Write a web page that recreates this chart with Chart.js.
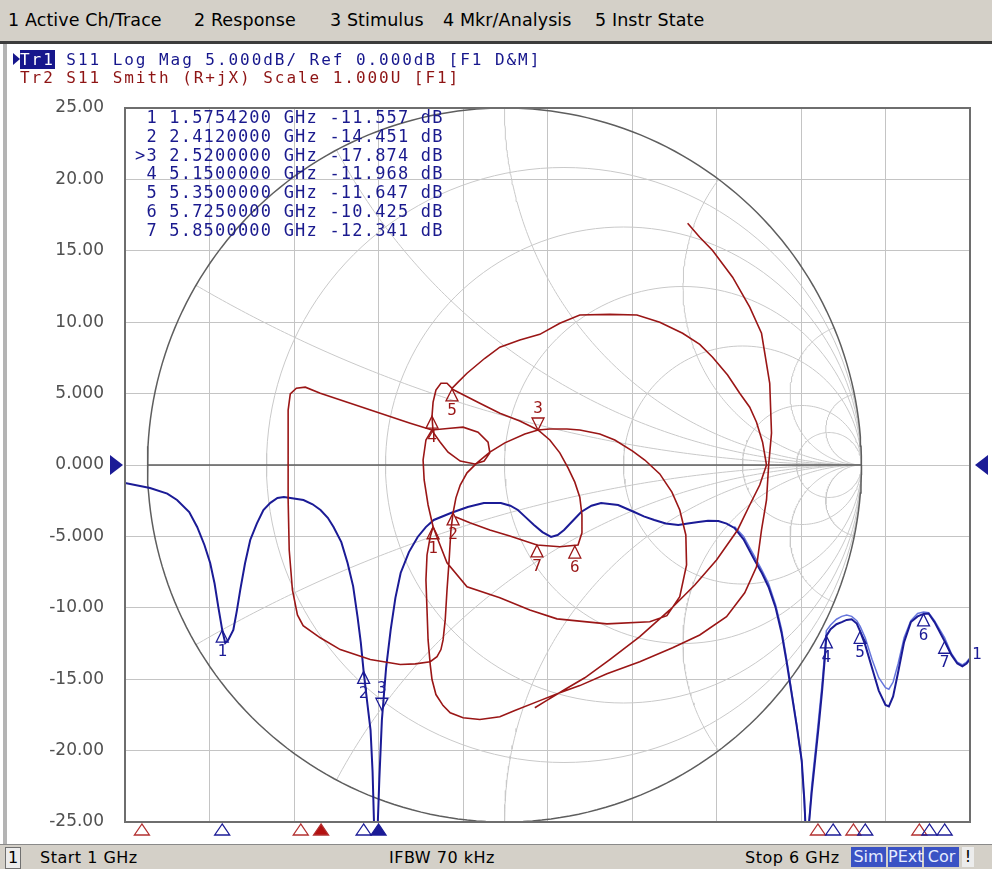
<!DOCTYPE html>
<html>
<head>
<meta charset="utf-8">
<title>S11 Log Mag / Smith</title>
<script src="https://cdn.jsdelivr.net/npm/chart.js@4.4.1/dist/chart.umd.min.js"></script>
<style>
  body { margin: 0; width: 992px; height: 869px; overflow: hidden; background: #fff; position: relative; }
  canvas { position: absolute; left: 0; top: 0; }
  #menu { position: absolute; left: 0; top: 0; width: 992px; height: 41px; background: #d4d0c8;
          font-family: "DejaVu Sans", sans-serif; font-size: 17.5px; letter-spacing: 0.1px; color: #000; }
  #menu span { position: absolute; top: 10px; white-space: pre; }
  #menuLine { position: absolute; left: 0; top: 41px; width: 992px; height: 3px; background: #3c3c3c; }
  #leftBar { position: absolute; left: 3px; top: 44px; width: 4px; height: 801px; background: #b4b4b4; }
  .hdr { position: absolute; left: 20px; font-family: "DejaVu Sans Mono", monospace; font-size: 16px;
         letter-spacing: 1.95px; white-space: pre; line-height: 18px; }
  #tr1 { top: 51px; color: #16168c; }
  #tr1 b { background: #16168c; color: #fff; font-weight: normal; }
  #tr2 { top: 69px; color: #8e1414; }
  #arrowHdr { position: absolute; left: 13px; top: 53px; width: 0; height: 0;
              border-top: 6px solid transparent; border-bottom: 6px solid transparent; border-left: 7px solid #16168c; }
  #mkTable { position: absolute; left: 135px; top: 108px; margin: 0; font-family: "DejaVu Sans Mono", monospace;
             font-size: 17px; letter-spacing: 1.2px; line-height: 18.8px; color: #1a1a8e; white-space: pre; }
  #status { position: absolute; left: 0; top: 844px; width: 992px; height: 25px; background: #d4d0c8;
            border-top: 1px solid #8a8a8a; font-family: "DejaVu Sans", sans-serif;
            font-size: 16px; letter-spacing: 0.5px; color: #000; }
  #status span { position: absolute; top: 3px; white-space: pre; }
  #status .box { top: 2px; height: 20px; line-height: 20px; text-align: center; letter-spacing: 0; }
  #chNo { left: 5px; width: 14px; background: #ececec; border: 1px solid #707070; }
  .blu { background: #3a52c4; color: #e6ecff; }
</style>
</head>
<body>
<canvas id="vna" width="992" height="869"></canvas>

<div id="menu">
  <span style="left:8px">1 Active Ch/Trace</span>
  <span style="left:194px">2 Response</span>
  <span style="left:330px">3 Stimulus</span>
  <span style="left:443px">4 Mkr/Analysis</span>
  <span style="left:595px">5 Instr State</span>
</div>
<div id="menuLine"></div>
<div id="leftBar"></div>

<div id="arrowHdr"></div>
<div class="hdr" id="tr1"><b>Tr1</b> S11 Log Mag 5.000dB/ Ref 0.000dB [F1 D&amp;M]</div>
<div class="hdr" id="tr2">Tr2 S11 Smith (R+jX) Scale 1.000U [F1]</div>
<pre id="mkTable"></pre>

<div id="status">
  <span class="box" id="chNo">1</span>
  <span style="left:40px">Start 1 GHz</span>
  <span style="left:389px">IFBW 70 kHz</span>
  <span style="left:745px">Stop 6 GHz</span>
  <span class="box blu" style="left:851px;width:35px">Sim</span>
  <span class="box blu" style="left:888px;width:34px">PExt</span>
  <span class="box blu" style="left:924px;width:35px">Cor</span>
  <span class="box" style="left:962px;width:12px;background:#ececec">!</span>
</div>

<script>
"use strict";

// Tr1: S11 log magnitude (GHz, dB)
const freqGHz = [1.000, 1.148, 1.25, 1.308, 1.38, 1.427, 1.47, 1.504, 1.53, 1.552, 1.5754, 1.593, 1.611,
  1.641, 1.662, 1.682, 1.71, 1.741, 1.78, 1.819, 1.86, 1.902, 1.94, 1.979, 2.056, 2.11, 2.157, 2.20, 2.234,
  2.28, 2.317, 2.35, 2.376, 2.395, 2.412, 2.435, 2.453, 2.465, 2.478, 2.49, 2.505, 2.52, 2.545, 2.572, 2.60,
  2.631, 2.68, 2.732, 2.78, 2.827, 2.928, 3.028, 3.123, 3.224, 3.28, 3.325, 3.37, 3.42, 3.47, 3.521, 3.56,
  3.598, 3.65, 3.699, 3.76, 3.817, 3.918, 4.013, 4.07, 4.132, 4.20, 4.274, 4.33, 4.393, 4.45, 4.511, 4.56,
  4.606, 4.66, 4.725, 4.77, 4.808, 4.85, 4.885, 4.915, 4.944, 4.975, 5.004, 5.02, 5.033, 5.048, 5.063, 5.085,
  5.104, 5.125, 5.14, 5.15, 5.175, 5.21, 5.241, 5.27, 5.30, 5.33, 5.35, 5.38, 5.42, 5.46, 5.50, 5.52, 5.545,
  5.575, 5.61, 5.65, 5.69, 5.725, 5.755, 5.79, 5.85, 5.89, 5.925, 5.955, 5.98, 6.0];
const s11Db = [-1.26, -1.61, -2.0, -2.45, -3.3, -4.34, -5.6, -6.86, -8.3, -9.94, -11.56, -12.46, -12.25,
  -11.55, -10.2, -8.75, -6.9, -5.25, -4.1, -3.15, -2.65, -2.31, -2.25, -2.31, -2.45, -2.75, -3.15, -3.7, -4.34,
  -5.4, -6.86, -8.5, -10.64, -12.4, -14.45, -16.8, -18.56, -21.5, -27, -27, -22.0, -17.87, -14.2, -11.55, -9.3,
  -7.56, -6.1, -5.04, -4.35, -3.85, -3.36, -2.94, -2.66, -2.66, -2.85, -3.15, -3.65, -4.2, -4.7, -5.04, -4.9,
  -4.55, -3.9, -3.29, -2.85, -2.66, -2.8, -3.29, -3.6, -3.85, -4.1, -4.2, -4.1, -3.99, -3.9, -3.92, -4.1,
  -4.41, -5.2, -6.65, -7.6, -8.54, -10.0, -11.76, -13.8, -15.97, -18.3, -20.66, -23.5, -27, -25, -22.97, -20.5,
  -18.35, -15.8, -13.66, -11.97, -11.5, -11.15, -11.0, -10.85, -10.8, -11.1, -11.65, -12.6, -14.2, -15.8, -16.8,
  -16.9, -16.2, -14.5, -12.4, -11.0, -10.6, -10.43, -10.4, -11.0, -12.34, -13.3, -13.9, -14.1, -13.9, -13.6];

// lighter memory copy of Tr1, visible at the high band
const memFreqGHz = [4.606, 4.66, 4.725, 4.77, 4.808, 4.85, 4.885, 4.915, 4.944, 4.975, 5.004, 5.02, 5.033,
  5.048, 5.063, 5.085, 5.104, 5.125, 5.14, 5.15, 5.175, 5.21, 5.241, 5.27, 5.30, 5.33, 5.35, 5.38, 5.42, 5.46,
  5.50, 5.52, 5.545, 5.575, 5.61, 5.65, 5.69, 5.725, 5.755, 5.79, 5.85, 5.89, 5.925, 5.955, 5.98, 6.0];
const memDb = [-4.3, -5.0, -6.4, -7.4, -8.3, -9.8, -11.5, -13.6, -15.8, -18.2, -20.8, -23.8, -27, -25, -22.5,
  -20.0, -17.8, -15.3, -13.2, -11.6, -11.2, -10.8, -10.6, -10.5, -10.6, -10.9, -11.3, -12.1, -13.6, -14.9, -15.6,
  -15.7, -15.2, -13.9, -12.1, -10.9, -10.4, -10.3, -10.35, -10.9, -12.1, -13.2, -13.8, -14.0, -13.8, -13.5];

// Tr2: S11 on the Smith chart (reflection coefficient, real / imaginary); null = break
const smithRe = [0.513, 0.547, 0.583, 0.639, 0.687, 0.720, 0.743, 0.748, 0.740, 0.734, 0.720, 0.706, 0.673,
  0.622, 0.547, 0.471, 0.379, 0.287, 0.211, 0.155, 0.099, 0.029, -0.013, -0.069, -0.116, -0.152, -0.172, -0.192,
  -0.203, -0.208, -0.214, -0.217, -0.220, -0.217, -0.208, -0.200,
  -0.186, -0.161, -0.105, -0.013, 0.071, 0.147, 0.287, 0.407, 0.455, 0.491, 0.510, 0.508, 0.491, 0.469, 0.435,
  0.393, 0.359, 0.309, 0.267, 0.211, 0.175, 0.127, 0.094,
  0.057, 0.001, -0.041, -0.077, -0.105, -0.124, -0.136, -0.144,
  -0.150, -0.155, -0.161, -0.166, -0.172, -0.178, -0.189, -0.208,
  -0.250, -0.292, -0.376, -0.460, -0.516, -0.564, -0.580, -0.594, -0.603, -0.606, -0.606, -0.606, -0.600, -0.583,
  -0.558, -0.516, -0.432, -0.348, -0.264, -0.203,
  -0.152, -0.116, -0.074, -0.046, -0.041, -0.057, -0.083, -0.124, -0.158, -0.180, -0.200,
  -0.203, -0.200, -0.192, -0.178, -0.161, -0.147,
  -0.130, -0.105, -0.055, -0.013, 0.043, 0.099, 0.155, 0.211, 0.295, 0.371, 0.435, 0.499, 0.547, 0.583, 0.625,
  0.659, 0.687, 0.706, 0.723, 0.734,
  0.715, 0.687, 0.653, 0.594, 0.533, 0.463, 0.379, 0.295, 0.225, 0.169, 0.113, 0.085,
  null,
  -0.200, -0.214, -0.225, -0.228, -0.220, -0.203,
  null,
  -0.147, -0.124, -0.069, -0.013, 0.043, 0.094, 0.127, 0.155, 0.178, 0.197, 0.211, 0.217, 0.217, 0.206, 0.155,
  0.091, 0.015, -0.041, -0.097, -0.138];
const smithIm = [0.677, 0.638, 0.601, 0.526, 0.442, 0.369, 0.229, 0.090, 0.000, -0.098, -0.182, -0.285, -0.358,
  -0.425, -0.476, -0.512, -0.551, -0.585, -0.618, -0.638, -0.660, -0.688, -0.705, -0.713, -0.708, -0.694, -0.674,
  -0.643, -0.601, -0.559, -0.490, -0.406, -0.322, -0.252, -0.201, -0.173,
  -0.210, -0.274, -0.341, -0.372, -0.406, -0.431, -0.445, -0.439, -0.422, -0.369, -0.280, -0.196, -0.126, -0.076,
  -0.025, 0.014, 0.039, 0.070, 0.087, 0.098, 0.101, 0.101, 0.098,
  0.087, 0.062, 0.036, 0.006, -0.022, -0.056, -0.092, -0.134,
  -0.182, -0.266, -0.350, -0.434, -0.490, -0.517, -0.537, -0.551,
  -0.557, -0.559, -0.545, -0.517, -0.484, -0.450, -0.420, -0.350, -0.238, -0.098, 0.042, 0.154, 0.199, 0.215,
  0.218, 0.201, 0.173, 0.145, 0.117, 0.098,
  0.103, 0.106, 0.092, 0.064, 0.034, 0.011, 0.003, 0.011, 0.036, 0.064, 0.092,
  0.137, 0.176, 0.210, 0.229, 0.229, 0.215,
  0.232, 0.257, 0.299, 0.330, 0.350, 0.366, 0.397, 0.420, 0.422, 0.420, 0.400, 0.369, 0.338, 0.302, 0.252,
  0.201, 0.162, 0.120, 0.064, 0.000,
  -0.056, -0.112, -0.182, -0.266, -0.336, -0.406, -0.481, -0.545, -0.596, -0.629, -0.663, -0.680,
  null,
  -0.173, -0.112, -0.042, 0.014, 0.070, 0.098,
  null,
  0.213, 0.201, 0.173, 0.145, 0.123, 0.098, 0.070, 0.034, -0.008, -0.048, -0.090, -0.140, -0.190, -0.224, -0.229,
  -0.224, -0.199, -0.182, -0.162, -0.145];

// markers (shared by both traces)
const markerNo = ["1", "2", "3", "4", "5", "6", "7"];
const markerFreq = [1.57542, 2.412, 2.52, 5.15, 5.35, 5.725, 5.85];
const markerDb = [-11.557, -14.451, -17.874, -11.968, -11.647, -10.425, -12.341];
const markerRe = [-0.200, -0.144, 0.094, -0.203, -0.147, 0.197, 0.091];
const markerIm = [-0.173, -0.134, 0.098, 0.137, 0.213, -0.227, -0.224];
const activeMarker = 2;

// stimulus position indicators under the grid
const indBlueFreq = [1.575, 2.412, 2.50, 5.19, 5.38, 5.76, 5.85];
const indBlueFilled = [false, false, true, false, false, false, false];
const indRedFreq = [1.10, 2.04, 2.16, 5.10, 5.31, 5.70];
const indRedFilled = [false, false, true, false, false, false];

// Smith grid values
const rCircles = [0.2, 0.5, 1, 2, 5, 10];
const xArcs = [0.27, 0.6, 1, 2, 5, 10];

const BLUE = "#1b1b96";
const RED = "#9a1616";

// marker readout
let rows = [];
for (let i = 0; i < markerNo.length; i++) {
  let num = (i === activeMarker ? ">" : " ") + markerNo[i];
  rows.push(num + " " + markerFreq[i].toFixed(7) + " GHz " + markerDb[i].toFixed(3) + " dB");
}
document.getElementById("mkTable").textContent = rows.join("\n");

// helpers for the Smith grid
function arcPoints(cx, cy, rad, t0, t1, n) {
  let pts = [];
  for (let k = 0; k <= n; k++) {
    let t = t0 + (t1 - t0) * k / n;
    pts.push({ x: cx + rad * Math.cos(t), y: cy + rad * Math.sin(t) });
  }
  return pts;
}

function gridSet(pts, color, width) {
  return { data: pts, xAxisID: "x2", yAxisID: "y2", showLine: true, pointRadius: 0,
    borderColor: color, borderWidth: width, order: 10, clip: false };
}

let datasets = [];
for (let i = 0; i < rCircles.length; i++) {
  let r = rCircles[i];
  datasets.push(gridSet(arcPoints(r / (1 + r), 0, 1 / (1 + r), 0, 2 * Math.PI, 160), "#c9c9c9", 1));
}
for (let i = 0; i < xArcs.length; i++) {
  let x = xArcs[i];
  let tEnd = Math.atan2(x * x - 1, -2 * x);
  if (tEnd < 0) tEnd += 2 * Math.PI;
  let up = arcPoints(1, 1 / x, 1 / x, 1.5 * Math.PI, tEnd, 160);
  let down = up.map(p => ({ x: p.x, y: -p.y }));
  datasets.push(gridSet(up, "#c9c9c9", 1));
  datasets.push(gridSet(down, "#c9c9c9", 1));
}
let outer = gridSet(arcPoints(0, 0, 1, 0, 2 * Math.PI, 240), "#5e5e5e", 1.5);
outer.order = 9;
datasets.push(outer);
let realAxis = gridSet([{ x: -1, y: 0 }, { x: 1, y: 0 }], "#5e5e5e", 1.5);
realAxis.order = 9;
datasets.push(realAxis);

// traces
let memPts = [];
for (let i = 0; i < memFreqGHz.length; i++) memPts.push({ x: memFreqGHz[i], y: memDb[i] });
let mainPts = [];
for (let i = 0; i < freqGHz.length; i++) mainPts.push({ x: freqGHz[i], y: s11Db[i] });
let smithPts = [];
for (let i = 0; i < smithRe.length; i++) smithPts.push({ x: smithRe[i], y: smithIm[i] });

datasets.push({ data: memPts, showLine: true, pointRadius: 0, borderColor: "#6676dc", borderWidth: 1.5, order: 3 });
datasets.push({ data: mainPts, showLine: true, pointRadius: 0, borderColor: BLUE, borderWidth: 2, order: 2 });
datasets.push({ data: smithPts, xAxisID: "x2", yAxisID: "y2", showLine: true, pointRadius: 0,
  borderColor: RED, borderWidth: 1.6, spanGaps: false, order: 1 });

function tri(ctx, cx, tipY, dir, w, h, stroke, fill) {
  ctx.beginPath();
  ctx.moveTo(cx, tipY);
  ctx.lineTo(cx - w / 2, tipY + dir * h);
  ctx.lineTo(cx + w / 2, tipY + dir * h);
  ctx.closePath();
  if (fill) { ctx.fillStyle = fill; ctx.fill(); }
  ctx.strokeStyle = stroke;
  ctx.lineWidth = 1.3;
  ctx.stroke();
}

// marker symbols: active marker is a down triangle with its number above
function drawMarker(ctx, px, py, label, active, color, gap) {
  ctx.fillStyle = color;
  if (active) {
    tri(ctx, px, py - gap, -1, 12, 12, color, null);
    ctx.fillText(label, px, py - gap - 21);
  } else {
    tri(ctx, px, py, 1, 12, 12, color, null);
    ctx.fillText(label, px, py + 22);
  }
}

const overlay = {
  id: "overlay",
  afterDatasetsDraw(chart) {
    const ctx = chart.ctx;
    const a = chart.chartArea;
    const sx = chart.scales.x, sy = chart.scales.y, gx = chart.scales.x2, gy = chart.scales.y2;
    ctx.save();
    // frame
    ctx.strokeStyle = "#6e6e6e";
    ctx.lineWidth = 2;
    ctx.strokeRect(a.left, a.top, a.right - a.left, a.bottom - a.top);

    ctx.font = "16px 'DejaVu Sans Mono'";
    ctx.textAlign = "center";
    ctx.textBaseline = "middle";
    for (let i = 0; i < markerNo.length; i++) {
      drawMarker(ctx, sx.getPixelForValue(markerFreq[i]), sy.getPixelForValue(markerDb[i]),
        markerNo[i], i === activeMarker, BLUE, 10);
    }
    for (let i = 0; i < markerNo.length; i++) {
      drawMarker(ctx, gx.getPixelForValue(markerRe[i]), gy.getPixelForValue(markerIm[i]),
        markerNo[i], i === activeMarker, RED, 0);
    }
    // indicators under the grid
    for (let i = 0; i < indRedFreq.length; i++) {
      tri(ctx, sx.getPixelForValue(indRedFreq[i]), a.bottom + 2, 1, 15, 11, "#b33030", indRedFilled[i] ? "#b31010" : null);
    }
    for (let i = 0; i < indBlueFreq.length; i++) {
      tri(ctx, sx.getPixelForValue(indBlueFreq[i]), a.bottom + 2, 1, 15, 11, BLUE, indBlueFilled[i] ? BLUE : null);
    }
    // reference position arrows
    let y0 = sy.getPixelForValue(0);
    ctx.fillStyle = BLUE;
    ctx.beginPath();
    ctx.moveTo(a.left - 2, y0); ctx.lineTo(a.left - 15, y0 - 10); ctx.lineTo(a.left - 15, y0 + 10);
    ctx.closePath(); ctx.fill();
    ctx.beginPath();
    ctx.moveTo(a.right + 5, y0); ctx.lineTo(a.right + 18, y0 - 10); ctx.lineTo(a.right + 18, y0 + 10);
    ctx.closePath(); ctx.fill();
    // trace number at end of Tr1
    ctx.textAlign = "left";
    ctx.fillText("1", a.right + 2, sy.getPixelForValue(s11Db[s11Db.length - 1]) - 4);
    ctx.restore();
  }
};

Chart.defaults.font.family = "DejaVu Sans";

new Chart(document.getElementById("vna"), {
  type: "scatter",
  data: { datasets: datasets },
  options: {
    responsive: false,
    animation: false,
    devicePixelRatio: 1,
    layout: { padding: { top: 108, right: 22, bottom: 47, left: 0 } },
    plugins: { legend: { display: false }, tooltip: { enabled: false } },
    scales: {
      x: {
        type: "linear", min: 1, max: 6,
        ticks: { stepSize: 0.5, display: false },
        grid: { color: "#c4c4c4", drawTicks: false },
        border: { display: false },
        afterFit(s) { s.height = 0; }
      },
      y: {
        type: "linear", min: -25, max: 25,
        ticks: { stepSize: 5, padding: 21, color: "#505050", font: { size: 17 },
          callback: v => Number(v).toPrecision(4) },
        grid: { color: "#c4c4c4", drawTicks: false },
        border: { display: false },
        afterFit(s) { s.width = 125; }
      },
      x2: { type: "linear", display: false, min: -1.063, max: 1.304 },
      y2: { type: "linear", display: false, min: -1, max: 1 }
    }
  },
  plugins: [overlay]
});
</script>
</body>
</html>
